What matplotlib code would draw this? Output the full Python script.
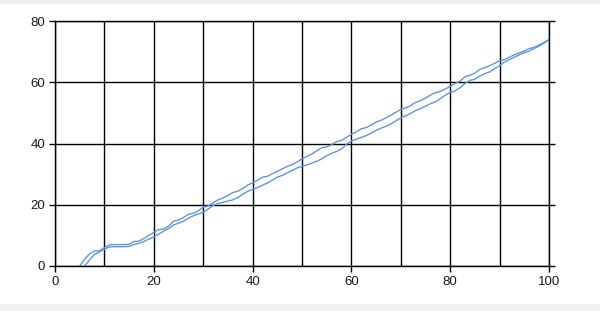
import matplotlib.pyplot as plt
from matplotlib.patches import Rectangle
from matplotlib.ticker import MultipleLocator

# series
x_upper = list(range(5, 101))
upper = [0, 2.2, 4.0, 4.9, 5.0, 6.0, 6.9, 7.0, 7.0, 7.0, 7.1, 8.0, 8.1, 9.0, 10.0,
         11.0, 11.9, 12.0, 13.0, 14.6, 15.0, 15.8, 16.9, 17.2, 18.0, 19.2, 19.6,
         20.6, 21.6, 22.2, 23.0, 24.0, 24.4, 25.3, 26.4, 27.2, 28.0, 29.0, 29.3,
         30.1, 30.9, 31.7, 32.5, 33.1, 34.0, 35.0, 35.8, 36.6, 37.6, 38.6, 38.9,
         39.6, 40.6, 41.0, 42.0, 43.0, 43.8, 44.8, 45.2, 46.0, 47.0, 47.6, 48.4,
         49.2, 50.2, 51.1, 51.6, 52.4, 53.4, 54.0, 54.8, 55.8, 56.6, 57.0, 57.8,
         58.6, 59.6, 60.4, 61.8, 62.3, 63.0, 64.2, 64.8, 65.4, 66.2, 67.0, 67.4,
         68.2, 69.0, 69.6, 70.2, 71.0, 71.4, 72.2, 73.0, 73.9]

x_lower = list(range(6, 101))
lower = [0, 2.0, 3.8, 4.6, 5.5, 6.2, 6.3, 6.3, 6.3, 6.4, 7.0, 7.4, 8.0, 8.8, 9.5,
         10.4, 11.4, 12.2, 13.4, 14.0, 14.6, 15.6, 16.4, 17.0, 17.5, 18.6, 19.8,
         20.4, 20.8, 21.2, 21.6, 22.4, 23.4, 24.4, 25.0, 25.6, 26.4, 27.1, 28.0,
         29.0, 29.6, 30.4, 31.2, 32.0, 32.6, 33.0, 33.6, 34.2, 35.0, 36.0, 36.8,
         37.4, 38.2, 39.8, 40.8, 41.4, 42.0, 42.6, 43.4, 44.3, 45.0, 45.6, 46.4,
         47.4, 48.4, 49.0, 49.8, 50.8, 51.4, 52.2, 53.0, 53.6, 54.6, 55.8, 56.7,
         57.2, 58.2, 59.6, 60.6, 61.0, 62.0, 62.8, 63.4, 64.4, 65.4, 66.6, 67.4,
         68.2, 69.0, 69.6, 70.2, 71.0, 71.8, 72.8, 73.9]

LINE = "#5f96df"
BAND = "#f0f0f0"

plt.rcParams["font.family"] = ["Liberation Sans", "DejaVu Sans"]

fig = plt.figure(figsize=(6, 3.11), dpi=100)
fig.patch.set_facecolor("white")
# grey strips top and bottom of the window
fig.patches.append(Rectangle((0, 1 - 4 / 311), 1, 4 / 311, transform=fig.transFigure,
                             facecolor=BAND, edgecolor="none"))
fig.patches.append(Rectangle((0, 0), 1, 7 / 311, transform=fig.transFigure,
                             facecolor=BAND, edgecolor="none"))

ax = fig.add_axes([55 / 600, 45 / 311, 494 / 600, 245 / 311])
ax.set_facecolor("white")

ax.plot(x_upper, upper, color=LINE, linewidth=1.0)
ax.plot(x_lower, lower, color=LINE, linewidth=1.0)

ax.set_xlim(0, 100)
ax.set_ylim(0, 80)
ax.xaxis.set_major_locator(MultipleLocator(20))
ax.xaxis.set_minor_locator(MultipleLocator(10))
ax.yaxis.set_major_locator(MultipleLocator(20))

ax.grid(which="both", axis="x", color="black", linewidth=1.0)
ax.grid(which="major", axis="y", color="black", linewidth=1.0)
ax.set_axisbelow(True)

ax.tick_params(axis="both", which="major", length=4, width=1.0, color="black",
               labelsize=9.5, labelcolor="#1a1a1a", pad=3)
ax.tick_params(axis="y", right=True)
ax.tick_params(axis="x", which="minor", length=0)
for spine in ax.spines.values():
    spine.set_color("black")
    spine.set_linewidth(1.0)

fig.savefig("out.png", dpi=100, facecolor="white")
